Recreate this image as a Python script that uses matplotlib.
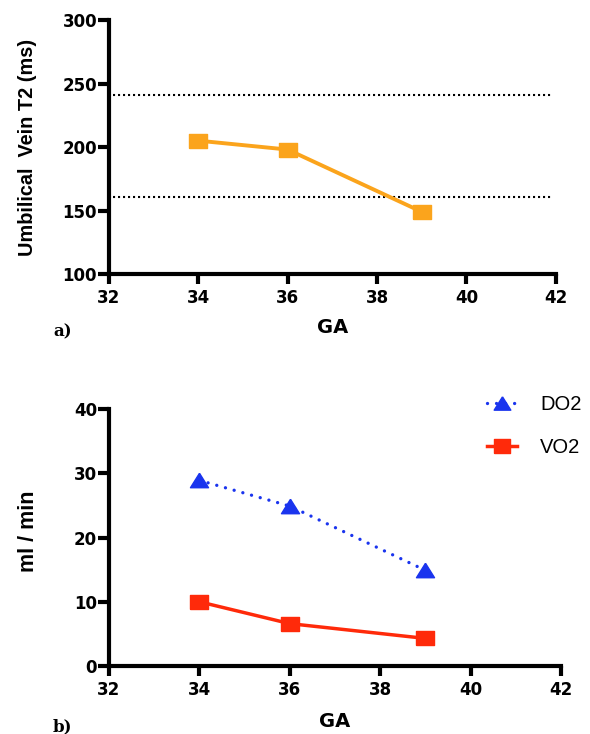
import numpy as np
import matplotlib
matplotlib.use('Agg')
from matplotlib import pyplot as plt
from matplotlib.lines import Line2D

plt.rcParams['font.family'] = ['DejaVu Sans']

# data
ga = [34, 36, 39]
uv_t2 = [205, 198, 149]
ref_lines = [241, 161]
do2 = [28.9, 24.9, 14.9]
vo2 = [10.0, 6.6, 4.3]
x_ticks = [32, 34, 36, 38, 40, 42]
top_y_ticks = [100, 150, 200, 250, 300]
bot_y_ticks = [0, 10, 20, 30, 40]

orange = '#FBA41C'
blue = '#1A34EE'
red = '#FF2A0A'

# the original picture is a bit stretched sideways, so use wide markers
rect = [(-1.25, -1), (1.25, -1), (1.25, 1), (-1.25, 1), (-1.25, -1)]
tri = [(0, 0.8), (-1, -0.8), (1, -0.8), (0, 0.8)]
dots = (0, (0.01, 2.7))

fig = plt.figure(figsize=(5.9, 7.34), dpi=100)

def style(ax):
    for s in ['top', 'right']:
        ax.spines[s].set_visible(False)
    for s in ['left', 'bottom']:
        ax.spines[s].set_linewidth(3)
    ax.tick_params(width=3, labelsize=12)
    ax.tick_params(axis='x', length=7, pad=3.5)
    ax.tick_params(axis='y', length=8, pad=0.5)
    for lbl in ax.get_xticklabels() + ax.get_yticklabels():
        lbl.set_fontweight('bold')

# a)
ax1 = fig.add_axes([0.1847, 0.6267, 0.7571, 0.3460])
for r in ref_lines:
    ax1.plot([32.1, 41.9], [r, r], ls=(0, (1, 1.4)), color='black', lw=1.5)
ax1.plot(ga, uv_t2, color=orange, lw=2.8, marker=rect, ms=13, clip_on=False)
ax1.set_xlim(32, 42)
ax1.set_ylim(100, 300)
ax1.set_xticks(x_ticks)
ax1.set_yticks(top_y_ticks)
style(ax1)
ax1.set_xlabel('GA', fontsize=14, fontweight='bold')
ax1.xaxis.set_label_coords(0.5, -0.175)
ax1.set_ylabel('Umbilical  Vein T2 (ms)', fontsize=14.3, fontweight='bold',
               family='Liberation Sans')
ax1.yaxis.set_label_coords(-0.161, 0.5)
fig.text(0.0898, 0.5422, 'a)', fontsize=12, fontweight='bold', family='DejaVu Serif',
         ha='left', va='baseline')

# b)
ax2 = fig.add_axes([0.1847, 0.0926, 0.7661, 0.3501])
ax2.plot(ga, do2, color=blue, lw=2.4, ls=dots, dash_capstyle='round',
         marker=tri, ms=13, clip_on=False)
ax2.plot(ga, vo2, color=red, lw=2.5, marker=rect, ms=13, clip_on=False)
ax2.set_xlim(32, 42)
ax2.set_ylim(0, 40)
ax2.set_xticks(x_ticks)
ax2.set_yticks(bot_y_ticks)
style(ax2)
ax2.set_xlabel('GA', fontsize=14, fontweight='bold')
ax2.xaxis.set_label_coords(0.5, -0.18)
ax2.set_ylabel('ml / min', fontsize=15.5, fontweight='bold', family='Liberation Sans')
ax2.yaxis.set_label_coords(-0.155, 0.525)
fig.text(0.0898, 0.0041, 'b)', fontsize=12, fontweight='bold', family='DejaVu Serif',
         ha='left', va='baseline')

handles = [Line2D([], [], color=blue, lw=2.4, ls=dots, dash_capstyle='round',
                  marker=tri, ms=12),
           Line2D([], [], color=red, lw=2.5, marker=rect, ms=12)]
fig.legend(handles, ['DO2', 'VO2'], loc='upper left', bbox_to_anchor=(0.8249, 0.4619),
           frameon=False, prop={'family': 'Liberation Sans', 'size': 14.5},
           handlelength=1.49, labelspacing=1.2, handletextpad=1.16,
           borderpad=0, borderaxespad=0)

fig.savefig('out.png', dpi=100)
